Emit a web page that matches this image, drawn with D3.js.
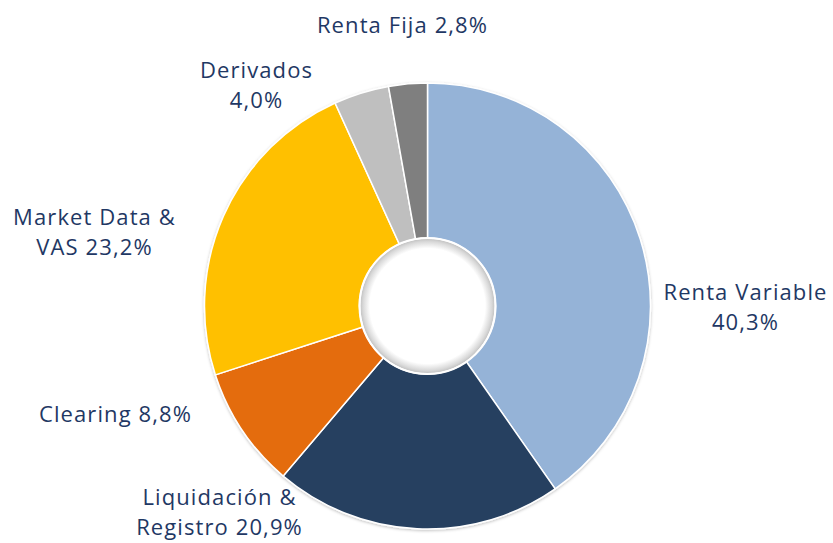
<!DOCTYPE html>
<html>
<head>
<meta charset="utf-8">
<script src="https://cdn.jsdelivr.net/npm/d3@7"></script>
<style>
  body { margin: 0; background: #fff; }
  svg text { font-family: "Open Sans", "Noto Sans", sans-serif; fill: #1f3864; }
</style>
</head>
<body>
<svg width="833" height="543"></svg>
<script>
// datos del gráfico (sentido horario desde las 12)
var categories = ["Renta Variable", "Liquidación & Registro", "Clearing", "Market Data & VAS", "Derivados", "Renta Fija"];
var values = [40.3, 20.9, 8.8, 23.2, 4.0, 2.8];
var labelLines = [
  ["Renta Variable", "40,3%"],
  ["Liquidación &", "Registro 20,9%"],
  ["Clearing 8,8%"],
  ["Market Data &", "VAS 23,2%"],
  ["Derivados", "4,0%"],
  ["Renta Fija 2,8%"]
];
var colors = ["#95b3d7", "#254061", "#e46c0a", "#ffc000", "#bfbfbf", "#7f7f7f"];

// posición de cada etiqueta respecto al centro (x centro, línea base de la 1a línea)
var labelLayout = [[318, -6], [-208, 199], [-312, 116], [-333, -81], [-171, -228], [-25, -273]];

var svg = d3.select("svg"),
    cx = 427.5, cy = 306,
    outerR = 223, innerR = 68,
    lineH = 30;

var g = svg.append("g").attr("transform", "translate(" + cx + "," + cy + ")");

var defs = svg.append("defs");
var grad = defs.append("radialGradient").attr("id", "hole");
grad.append("stop").attr("offset", "0.86").attr("stop-color", "#ffffff");
grad.append("stop").attr("offset", "0.96").attr("stop-color", "#d9d9d9");
grad.append("stop").attr("offset", "1").attr("stop-color", "#c4c4c4");

var shadow = defs.append("filter").attr("id", "sh").attr("x", "-10%").attr("y", "-10%").attr("width", "120%").attr("height", "120%");
shadow.append("feDropShadow").attr("dx", 0).attr("dy", 1).attr("stdDeviation", 1.5)
  .attr("flood-color", "#000").attr("flood-opacity", 0.25);

var pie = d3.pie().sort(null).value(function(d) { return d; });
var arc = d3.arc().innerRadius(innerR).outerRadius(outerR);

var arcs = pie(values);

var slices = g.append("g").attr("filter", "url(#sh)");
slices.selectAll("path")
  .data(arcs)
  .enter().append("path")
  .attr("d", arc)
  .attr("fill", function(d, i) { return colors[i]; })
  .attr("stroke", "#fff")
  .attr("stroke-width", 1.5);

// hueco con sombra interior
g.append("circle").attr("r", innerR - 1).attr("fill", "url(#hole)");
g.append("circle").attr("r", innerR).attr("fill", "none").attr("stroke", "#fff").attr("stroke-width", 2);

var labels = g.append("g").selectAll("text")
  .data(arcs)
  .enter().append("text")
  .attr("text-anchor", "middle")
  .attr("font-size", 22)
  .attr("letter-spacing", 1.1)
  .attr("transform", function(d, i) {
    var p = labelLayout[i];
    return "translate(" + p[0] + "," + p[1] + ")";
  });

labels.selectAll("tspan")
  .data(function(d, i) { return labelLines[i]; })
  .enter().append("tspan")
  .attr("x", 0)
  .attr("dy", function(d, j) { return j === 0 ? 0 : lineH; })
  .text(function(d) { return d; });
</script>
</body>
</html>
